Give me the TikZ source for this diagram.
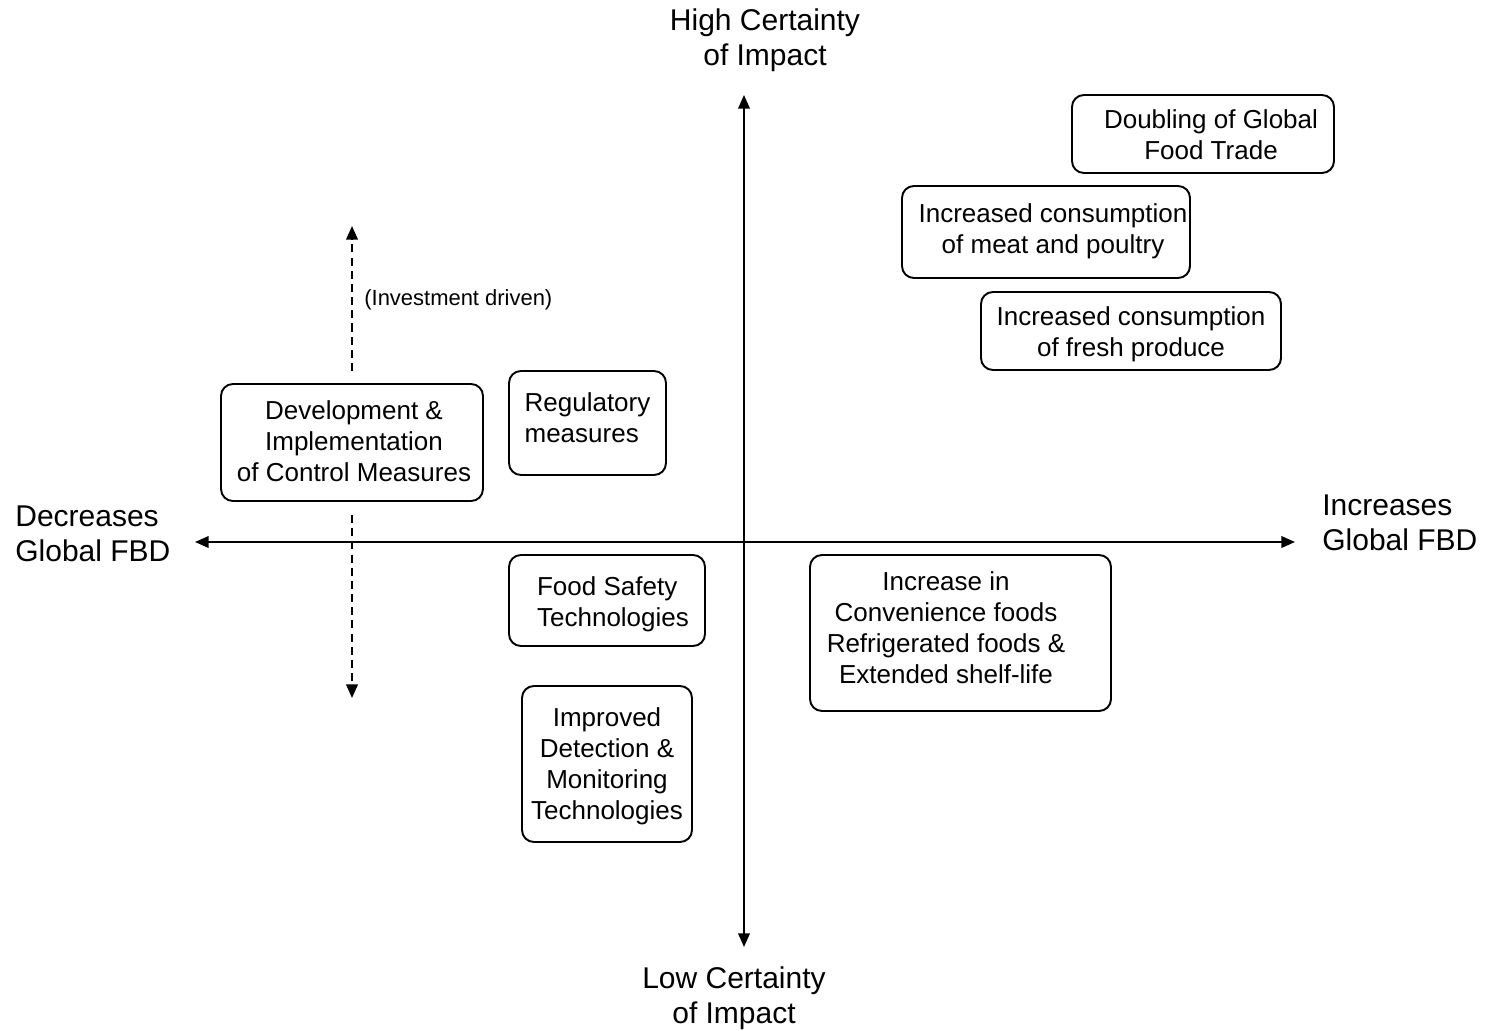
\documentclass[tikz,border=0pt]{standalone}
\usepackage{fontspec}
\setmainfont{Liberation Sans}
\usetikzlibrary{arrows.meta}
\newdimen\pu \pu=0.02cm
\newsavebox\bxbox
% #1 doubled x shift (px), #2 upward shift (px), #3 column spec, #4 lines
\newcommand{\bxt}[4]{%
  \sbox\bxbox{\begin{tabular}{@{}#3@{}}#4\end{tabular}}%
  \hspace*{#1\pu}\raisebox{0pt}[\dimexpr\ht\bxbox-#2\pu+4\pu\relax][\dimexpr\dp\bxbox+#2\pu-4\pu\relax]{\usebox\bxbox}}
\begin{document}
\begin{tikzpicture}[x=0.02cm,y=-0.02cm,
  box/.style={draw, line width=1.1pt, rounded corners=6.8pt, inner sep=0pt,
    font=\fontsize{14.8pt}{17.64pt}\selectfont},
  tip/.tip={Triangle[length=7.8pt,width=6.6pt]},
  axisline/.style={line width=1.1pt, tip-tip},
  dasharrow/.style={line width=1.2pt, dash pattern=on 4.6pt off 2.9pt, -tip},
  axislbl/.style={inner sep=0pt, font=\fontsize{17.07pt}{19.9pt}\selectfont},
  smalllbl/.style={inner sep=0pt, font=\fontsize{12.5pt}{15pt}\selectfont}]
\useasboundingbox (0,0) rectangle (1489,1031);

% axes
\coordinate (L) at (195,542);
\coordinate (R) at (1295,542);
\coordinate (T) at (744,95);
\coordinate (B) at (744,947);
\draw[axisline] (L) -- (R);
\draw[axisline] (T) -- (B);

% axis labels
\node[axislbl, align=center] (high) at (765,40) {High Certainty\\of Impact};
\node[axislbl, align=center] (low) at (734,998) {Low Certainty\\of Impact};
\node[axislbl, align=left, anchor=west] (dec) at (15,534) {Decreases\\Global FBD};
\node[axislbl, align=left, anchor=west] (inc) at (1322,523) {Increases\\Global FBD};

% boxes
\node[box, minimum width=262*\pu, minimum height=78*\pu] (trade) at (1203,134)
  {\bxt{16}{0}{c}{Doubling of Global\\Food Trade}};
\node[box, minimum width=288*\pu, minimum height=92*\pu] (meat) at (1046,232)
  {\bxt{14}{4}{c}{Increased consumption\\of meat and poultry}};
\node[box, minimum width=300*\pu, minimum height=78*\pu] (fresh) at (1131,331)
  {\bxt{0}{0}{c}{Increased consumption\\of fresh produce}};
\node[box, minimum width=262*\pu, minimum height=117*\pu] (dev) at (352,442.5)
  {\bxt{4}{2.5}{c}{Development \&\\Implementation\\of Control Measures}};
\node[box, minimum width=157*\pu, minimum height=104*\pu] (reg) at (587.5,423)
  {\bxt{0}{6}{l}{Regulatory\\measures}};
\node[box, minimum width=196*\pu, minimum height=91*\pu] (fst) at (607,600.5)
  {\bxt{12}{0}{l}{Food Safety\\Technologies}};
\node[box, minimum width=170*\pu, minimum height=156*\pu] (det) at (607,764)
  {\bxt{0}{1}{c}{Improved\\Detection \&\\Monitoring\\Technologies}};
\node[box, minimum width=301*\pu, minimum height=156*\pu] (conv) at (960.5,633)
  {\bxt{-29}{6}{c}{Increase in\\Convenience foods\\Refrigerated foods \&\\Extended shelf-life}};

% investment driven arrows
\coordinate (up) at (352,226);
\coordinate (dn) at (352,698);
\draw[dasharrow, shorten <=6.8pt] (dev.north) -- (up);
\draw[dasharrow, shorten <=7.4pt] (dev.south) -- (dn);
\node[smalllbl, anchor=west] (inv) at (364,300) {(Investment driven)};
\end{tikzpicture}
\end{document}
